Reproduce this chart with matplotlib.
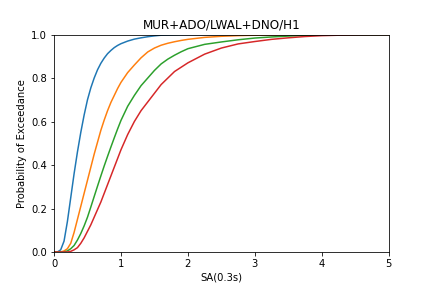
import numpy as np
import matplotlib
matplotlib.use('Agg')
from matplotlib import pyplot as plt

# SA(0.3s) grid and exceedance curves for the 4 damage states
sa = [0, 0.05, 0.1, 0.15, 0.2, 0.25, 0.3, 0.35, 0.4, 0.45, 0.5, 0.55, 0.6, 0.65, 0.7, 0.75,
      0.8, 0.85, 0.9, 0.95, 1.0,
      1.1, 1.2, 1.3, 1.4, 1.5, 1.6, 1.7, 1.8, 1.9, 2.0,
      2.25, 2.5, 2.75, 3.0, 3.25, 3.5, 3.75, 4.0, 4.25, 4.5, 4.75, 5.0]

ds1 = [0, 0, 0.01, 0.05, 0.14, 0.25, 0.36, 0.46, 0.55, 0.63, 0.70, 0.755, 0.80, 0.838, 0.868,
       0.892, 0.912, 0.927, 0.94, 0.95, 0.958,
       0.97, 0.979, 0.985, 0.99, 0.994, 0.997, 0.998, 0.999, 1.0, 1.0,
       1.0, 1.0, 1.0, 1.0, 1.0, 1.0, 1.0, 1.0, 1.0, 1.0, 1.0, 1.0]
ds2 = [0, 0, 0, 0.005, 0.015, 0.04, 0.09, 0.15, 0.21, 0.27, 0.33, 0.39, 0.45, 0.505, 0.56,
       0.607, 0.65, 0.688, 0.72, 0.752, 0.78,
       0.825, 0.86, 0.893, 0.92, 0.938, 0.951, 0.96, 0.967, 0.973, 0.978,
       0.987, 0.992, 0.995, 0.997, 0.998, 0.999, 1.0, 1.0, 1.0, 1.0, 1.0, 1.0]
ds3 = [0, 0, 0, 0, 0.005, 0.015, 0.03, 0.055, 0.085, 0.12, 0.16, 0.207, 0.255, 0.303, 0.35,
       0.396, 0.44, 0.483, 0.525, 0.566, 0.605,
       0.67, 0.72, 0.765, 0.80, 0.835, 0.865, 0.887, 0.905, 0.921, 0.935,
       0.955, 0.966, 0.976, 0.984, 0.989, 0.993, 0.996, 0.998, 0.999, 1.0, 1.0, 1.0]
ds4 = [0, 0, 0, 0, 0, 0.003, 0.01, 0.02, 0.04, 0.065, 0.095, 0.125, 0.16, 0.195, 0.23,
       0.27, 0.31, 0.35, 0.39, 0.43, 0.47,
       0.54, 0.60, 0.65, 0.69, 0.73, 0.77, 0.80, 0.83, 0.85, 0.87,
       0.91, 0.938, 0.957, 0.968, 0.978, 0.985, 0.991, 0.995, 0.997, 0.999, 1.0, 1.0]

fig = plt.figure(figsize=(6, 4), dpi=72)
plt.subplots_adjust(bottom=0.125)
for curve in [ds1, ds2, ds3, ds4]:
    plt.plot(sa, curve)
plt.xlim(0, 5)
plt.ylim(0, 1)
plt.xlabel('SA(0.3s)')
plt.ylabel('Probability of Exceedance')
plt.title('MUR+ADO/LWAL+DNO/H1')
plt.savefig('out.png', dpi=72)
